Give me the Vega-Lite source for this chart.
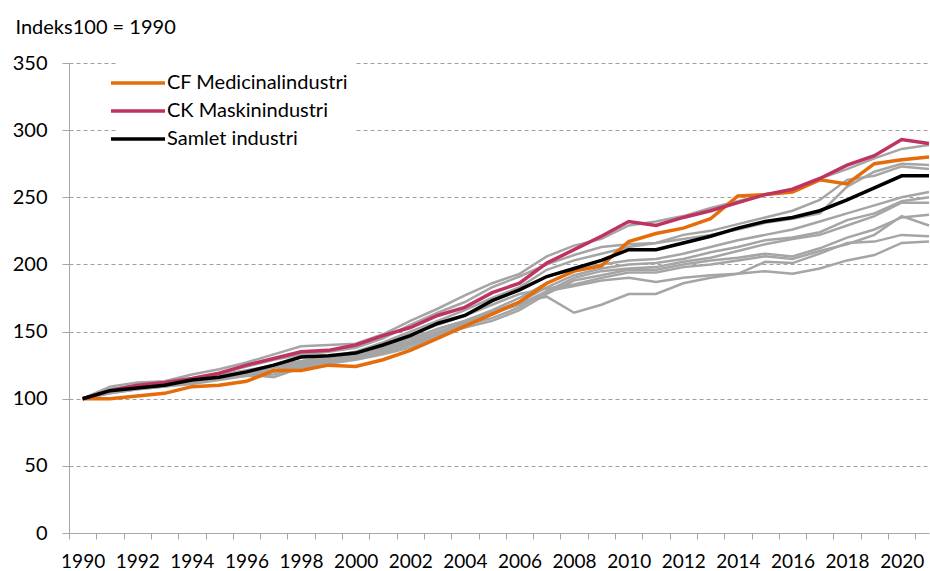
{
"$schema": "https://vega.github.io/schema/vega-lite/v6.json",
"width": 860, "height": 470,
"autosize": {"type": "none"},
"padding": {"left": 69, "top": 63, "right": 1, "bottom": 38},
"background": "white",
"config": {"font": "Lato", "view": {"stroke": null}},
"datasets": {
"rows": [
{"series":"G1","year":1990,"value":100},{"series":"G1","year":1991,"value":109},{"series":"G1","year":1992,"value":112},{"series":"G1","year":1993,"value":113},{"series":"G1","year":1994,"value":118},{"series":"G1","year":1995,"value":122},{"series":"G1","year":1996,"value":127},{"series":"G1","year":1997,"value":133},{"series":"G1","year":1998,"value":139},{"series":"G1","year":1999,"value":140},{"series":"G1","year":2000,"value":141},{"series":"G1","year":2001,"value":148},{"series":"G1","year":2002,"value":158},{"series":"G1","year":2003,"value":167},{"series":"G1","year":2004,"value":177},{"series":"G1","year":2005,"value":186},{"series":"G1","year":2006,"value":193},{"series":"G1","year":2007,"value":206},{"series":"G1","year":2008,"value":214},{"series":"G1","year":2009,"value":219},{"series":"G1","year":2010,"value":229},{"series":"G1","year":2011,"value":232},{"series":"G1","year":2012,"value":236},{"series":"G1","year":2013,"value":242},{"series":"G1","year":2014,"value":247},{"series":"G1","year":2015,"value":252},{"series":"G1","year":2016,"value":255},{"series":"G1","year":2017,"value":264},{"series":"G1","year":2018,"value":271},{"series":"G1","year":2019,"value":279},{"series":"G1","year":2020,"value":286},{"series":"G1","year":2021,"value":289},
{"series":"G2","year":1990,"value":100},{"series":"G2","year":1991,"value":107},{"series":"G2","year":1992,"value":110},{"series":"G2","year":1993,"value":112},{"series":"G2","year":1994,"value":115},{"series":"G2","year":1995,"value":119},{"series":"G2","year":1996,"value":124},{"series":"G2","year":1997,"value":129},{"series":"G2","year":1998,"value":133},{"series":"G2","year":1999,"value":135},{"series":"G2","year":2000,"value":138},{"series":"G2","year":2001,"value":145},{"series":"G2","year":2002,"value":155},{"series":"G2","year":2003,"value":164},{"series":"G2","year":2004,"value":172},{"series":"G2","year":2005,"value":183},{"series":"G2","year":2006,"value":191},{"series":"G2","year":2007,"value":200},{"series":"G2","year":2008,"value":207},{"series":"G2","year":2009,"value":213},{"series":"G2","year":2010,"value":215},{"series":"G2","year":2011,"value":216},{"series":"G2","year":2012,"value":219},{"series":"G2","year":2013,"value":222},{"series":"G2","year":2014,"value":226},{"series":"G2","year":2015,"value":231},{"series":"G2","year":2016,"value":234},{"series":"G2","year":2017,"value":238},{"series":"G2","year":2018,"value":258},{"series":"G2","year":2019,"value":269},{"series":"G2","year":2020,"value":275},{"series":"G2","year":2021,"value":274},
{"series":"G3","year":1990,"value":100},{"series":"G3","year":1991,"value":106},{"series":"G3","year":1992,"value":109},{"series":"G3","year":1993,"value":111},{"series":"G3","year":1994,"value":114},{"series":"G3","year":1995,"value":117},{"series":"G3","year":1996,"value":121},{"series":"G3","year":1997,"value":125},{"series":"G3","year":1998,"value":128},{"series":"G3","year":1999,"value":131},{"series":"G3","year":2000,"value":135},{"series":"G3","year":2001,"value":142},{"series":"G3","year":2002,"value":150},{"series":"G3","year":2003,"value":158},{"series":"G3","year":2004,"value":166},{"series":"G3","year":2005,"value":175},{"series":"G3","year":2006,"value":183},{"series":"G3","year":2007,"value":196},{"series":"G3","year":2008,"value":203},{"series":"G3","year":2009,"value":208},{"series":"G3","year":2010,"value":213},{"series":"G3","year":2011,"value":216},{"series":"G3","year":2012,"value":222},{"series":"G3","year":2013,"value":225},{"series":"G3","year":2014,"value":230},{"series":"G3","year":2015,"value":235},{"series":"G3","year":2016,"value":240},{"series":"G3","year":2017,"value":248},{"series":"G3","year":2018,"value":263},{"series":"G3","year":2019,"value":266},{"series":"G3","year":2020,"value":273},{"series":"G3","year":2021,"value":271},
{"series":"G4","year":1990,"value":100},{"series":"G4","year":1991,"value":105},{"series":"G4","year":1992,"value":108},{"series":"G4","year":1993,"value":110},{"series":"G4","year":1994,"value":113},{"series":"G4","year":1995,"value":117},{"series":"G4","year":1996,"value":120},{"series":"G4","year":1997,"value":123},{"series":"G4","year":1998,"value":127},{"series":"G4","year":1999,"value":130},{"series":"G4","year":2000,"value":133},{"series":"G4","year":2001,"value":138},{"series":"G4","year":2002,"value":145},{"series":"G4","year":2003,"value":152},{"series":"G4","year":2004,"value":158},{"series":"G4","year":2005,"value":166},{"series":"G4","year":2006,"value":175},{"series":"G4","year":2007,"value":186},{"series":"G4","year":2008,"value":195},{"series":"G4","year":2009,"value":200},{"series":"G4","year":2010,"value":203},{"series":"G4","year":2011,"value":204},{"series":"G4","year":2012,"value":208},{"series":"G4","year":2013,"value":213},{"series":"G4","year":2014,"value":218},{"series":"G4","year":2015,"value":222},{"series":"G4","year":2016,"value":226},{"series":"G4","year":2017,"value":232},{"series":"G4","year":2018,"value":238},{"series":"G4","year":2019,"value":244},{"series":"G4","year":2020,"value":250},{"series":"G4","year":2021,"value":254},
{"series":"G5","year":1990,"value":100},{"series":"G5","year":1991,"value":104},{"series":"G5","year":1992,"value":107},{"series":"G5","year":1993,"value":109},{"series":"G5","year":1994,"value":112},{"series":"G5","year":1995,"value":115},{"series":"G5","year":1996,"value":118},{"series":"G5","year":1997,"value":121},{"series":"G5","year":1998,"value":125},{"series":"G5","year":1999,"value":128},{"series":"G5","year":2000,"value":131},{"series":"G5","year":2001,"value":136},{"series":"G5","year":2002,"value":142},{"series":"G5","year":2003,"value":150},{"series":"G5","year":2004,"value":156},{"series":"G5","year":2005,"value":163},{"series":"G5","year":2006,"value":172},{"series":"G5","year":2007,"value":183},{"series":"G5","year":2008,"value":192},{"series":"G5","year":2009,"value":197},{"series":"G5","year":2010,"value":200},{"series":"G5","year":2011,"value":201},{"series":"G5","year":2012,"value":204},{"series":"G5","year":2013,"value":209},{"series":"G5","year":2014,"value":213},{"series":"G5","year":2015,"value":218},{"series":"G5","year":2016,"value":220},{"series":"G5","year":2017,"value":224},{"series":"G5","year":2018,"value":233},{"series":"G5","year":2019,"value":238},{"series":"G5","year":2020,"value":247},{"series":"G5","year":2021,"value":250},
{"series":"G6","year":1990,"value":100},{"series":"G6","year":1991,"value":106},{"series":"G6","year":1992,"value":109},{"series":"G6","year":1993,"value":110},{"series":"G6","year":1994,"value":113},{"series":"G6","year":1995,"value":116},{"series":"G6","year":1996,"value":117},{"series":"G6","year":1997,"value":118},{"series":"G6","year":1998,"value":124},{"series":"G6","year":1999,"value":128},{"series":"G6","year":2000,"value":130},{"series":"G6","year":2001,"value":134},{"series":"G6","year":2002,"value":140},{"series":"G6","year":2003,"value":148},{"series":"G6","year":2004,"value":155},{"series":"G6","year":2005,"value":160},{"series":"G6","year":2006,"value":168},{"series":"G6","year":2007,"value":180},{"series":"G6","year":2008,"value":190},{"series":"G6","year":2009,"value":195},{"series":"G6","year":2010,"value":197},{"series":"G6","year":2011,"value":198},{"series":"G6","year":2012,"value":202},{"series":"G6","year":2013,"value":205},{"series":"G6","year":2014,"value":210},{"series":"G6","year":2015,"value":215},{"series":"G6","year":2016,"value":219},{"series":"G6","year":2017,"value":222},{"series":"G6","year":2018,"value":229},{"series":"G6","year":2019,"value":236},{"series":"G6","year":2020,"value":246},{"series":"G6","year":2021,"value":246},
{"series":"G7","year":1990,"value":100},{"series":"G7","year":1991,"value":105},{"series":"G7","year":1992,"value":108},{"series":"G7","year":1993,"value":109},{"series":"G7","year":1994,"value":112},{"series":"G7","year":1995,"value":115},{"series":"G7","year":1996,"value":118},{"series":"G7","year":1997,"value":116},{"series":"G7","year":1998,"value":123},{"series":"G7","year":1999,"value":126},{"series":"G7","year":2000,"value":129},{"series":"G7","year":2001,"value":133},{"series":"G7","year":2002,"value":138},{"series":"G7","year":2003,"value":147},{"series":"G7","year":2004,"value":153},{"series":"G7","year":2005,"value":158},{"series":"G7","year":2006,"value":166},{"series":"G7","year":2007,"value":178},{"series":"G7","year":2008,"value":188},{"series":"G7","year":2009,"value":192},{"series":"G7","year":2010,"value":196},{"series":"G7","year":2011,"value":196},{"series":"G7","year":2012,"value":200},{"series":"G7","year":2013,"value":203},{"series":"G7","year":2014,"value":205},{"series":"G7","year":2015,"value":208},{"series":"G7","year":2016,"value":206},{"series":"G7","year":2017,"value":212},{"series":"G7","year":2018,"value":220},{"series":"G7","year":2019,"value":226},{"series":"G7","year":2020,"value":235},{"series":"G7","year":2021,"value":237},
{"series":"G8","year":1990,"value":100},{"series":"G8","year":1991,"value":107},{"series":"G8","year":1992,"value":110},{"series":"G8","year":1993,"value":111},{"series":"G8","year":1994,"value":114},{"series":"G8","year":1995,"value":118},{"series":"G8","year":1996,"value":121},{"series":"G8","year":1997,"value":124},{"series":"G8","year":1998,"value":128},{"series":"G8","year":1999,"value":131},{"series":"G8","year":2000,"value":135},{"series":"G8","year":2001,"value":140},{"series":"G8","year":2002,"value":148},{"series":"G8","year":2003,"value":155},{"series":"G8","year":2004,"value":162},{"series":"G8","year":2005,"value":170},{"series":"G8","year":2006,"value":178},{"series":"G8","year":2007,"value":182},{"series":"G8","year":2008,"value":185},{"series":"G8","year":2009,"value":190},{"series":"G8","year":2010,"value":194},{"series":"G8","year":2011,"value":194},{"series":"G8","year":2012,"value":198},{"series":"G8","year":2013,"value":200},{"series":"G8","year":2014,"value":203},{"series":"G8","year":2015,"value":206},{"series":"G8","year":2016,"value":204},{"series":"G8","year":2017,"value":210},{"series":"G8","year":2018,"value":215},{"series":"G8","year":2019,"value":222},{"series":"G8","year":2020,"value":236},{"series":"G8","year":2021,"value":229},
{"series":"G9","year":1990,"value":100},{"series":"G9","year":1991,"value":104},{"series":"G9","year":1992,"value":107},{"series":"G9","year":1993,"value":109},{"series":"G9","year":1994,"value":111},{"series":"G9","year":1995,"value":114},{"series":"G9","year":1996,"value":117},{"series":"G9","year":1997,"value":120},{"series":"G9","year":1998,"value":124},{"series":"G9","year":1999,"value":127},{"series":"G9","year":2000,"value":130},{"series":"G9","year":2001,"value":135},{"series":"G9","year":2002,"value":141},{"series":"G9","year":2003,"value":149},{"series":"G9","year":2004,"value":157},{"series":"G9","year":2005,"value":164},{"series":"G9","year":2006,"value":170},{"series":"G9","year":2007,"value":180},{"series":"G9","year":2008,"value":184},{"series":"G9","year":2009,"value":188},{"series":"G9","year":2010,"value":190},{"series":"G9","year":2011,"value":187},{"series":"G9","year":2012,"value":190},{"series":"G9","year":2013,"value":192},{"series":"G9","year":2014,"value":193},{"series":"G9","year":2015,"value":202},{"series":"G9","year":2016,"value":201},{"series":"G9","year":2017,"value":208},{"series":"G9","year":2018,"value":216},{"series":"G9","year":2019,"value":217},{"series":"G9","year":2020,"value":222},{"series":"G9","year":2021,"value":221},
{"series":"G10","year":1990,"value":100},{"series":"G10","year":1991,"value":105},{"series":"G10","year":1992,"value":108},{"series":"G10","year":1993,"value":110},{"series":"G10","year":1994,"value":112},{"series":"G10","year":1995,"value":116},{"series":"G10","year":1996,"value":119},{"series":"G10","year":1997,"value":121},{"series":"G10","year":1998,"value":126},{"series":"G10","year":1999,"value":129},{"series":"G10","year":2000,"value":132},{"series":"G10","year":2001,"value":137},{"series":"G10","year":2002,"value":143},{"series":"G10","year":2003,"value":152},{"series":"G10","year":2004,"value":158},{"series":"G10","year":2005,"value":165},{"series":"G10","year":2006,"value":172},{"series":"G10","year":2007,"value":176},{"series":"G10","year":2008,"value":164},{"series":"G10","year":2009,"value":170},{"series":"G10","year":2010,"value":178},{"series":"G10","year":2011,"value":178},{"series":"G10","year":2012,"value":186},{"series":"G10","year":2013,"value":190},{"series":"G10","year":2014,"value":193},{"series":"G10","year":2015,"value":195},{"series":"G10","year":2016,"value":193},{"series":"G10","year":2017,"value":197},{"series":"G10","year":2018,"value":203},{"series":"G10","year":2019,"value":207},{"series":"G10","year":2020,"value":216},{"series":"G10","year":2021,"value":217},
{"series":"CF Medicinalindustri","year":1990,"value":100},{"series":"CF Medicinalindustri","year":1991,"value":100},{"series":"CF Medicinalindustri","year":1992,"value":102},{"series":"CF Medicinalindustri","year":1993,"value":104},{"series":"CF Medicinalindustri","year":1994,"value":109},{"series":"CF Medicinalindustri","year":1995,"value":110},{"series":"CF Medicinalindustri","year":1996,"value":113},{"series":"CF Medicinalindustri","year":1997,"value":121},{"series":"CF Medicinalindustri","year":1998,"value":121},{"series":"CF Medicinalindustri","year":1999,"value":125},{"series":"CF Medicinalindustri","year":2000,"value":124},{"series":"CF Medicinalindustri","year":2001,"value":129},{"series":"CF Medicinalindustri","year":2002,"value":136},{"series":"CF Medicinalindustri","year":2003,"value":145},{"series":"CF Medicinalindustri","year":2004,"value":154},{"series":"CF Medicinalindustri","year":2005,"value":163},{"series":"CF Medicinalindustri","year":2006,"value":172},{"series":"CF Medicinalindustri","year":2007,"value":186},{"series":"CF Medicinalindustri","year":2008,"value":195},{"series":"CF Medicinalindustri","year":2009,"value":199},{"series":"CF Medicinalindustri","year":2010,"value":217},{"series":"CF Medicinalindustri","year":2011,"value":223},{"series":"CF Medicinalindustri","year":2012,"value":227},{"series":"CF Medicinalindustri","year":2013,"value":234},{"series":"CF Medicinalindustri","year":2014,"value":251},{"series":"CF Medicinalindustri","year":2015,"value":252},{"series":"CF Medicinalindustri","year":2016,"value":254},{"series":"CF Medicinalindustri","year":2017,"value":263},{"series":"CF Medicinalindustri","year":2018,"value":260},{"series":"CF Medicinalindustri","year":2019,"value":275},{"series":"CF Medicinalindustri","year":2020,"value":278},{"series":"CF Medicinalindustri","year":2021,"value":280},
{"series":"CK Maskinindustri","year":1990,"value":100},{"series":"CK Maskinindustri","year":1991,"value":106},{"series":"CK Maskinindustri","year":1992,"value":110},{"series":"CK Maskinindustri","year":1993,"value":112},{"series":"CK Maskinindustri","year":1994,"value":115},{"series":"CK Maskinindustri","year":1995,"value":119},{"series":"CK Maskinindustri","year":1996,"value":125},{"series":"CK Maskinindustri","year":1997,"value":130},{"series":"CK Maskinindustri","year":1998,"value":135},{"series":"CK Maskinindustri","year":1999,"value":136},{"series":"CK Maskinindustri","year":2000,"value":140},{"series":"CK Maskinindustri","year":2001,"value":147},{"series":"CK Maskinindustri","year":2002,"value":153},{"series":"CK Maskinindustri","year":2003,"value":162},{"series":"CK Maskinindustri","year":2004,"value":168},{"series":"CK Maskinindustri","year":2005,"value":179},{"series":"CK Maskinindustri","year":2006,"value":186},{"series":"CK Maskinindustri","year":2007,"value":201},{"series":"CK Maskinindustri","year":2008,"value":211},{"series":"CK Maskinindustri","year":2009,"value":221},{"series":"CK Maskinindustri","year":2010,"value":232},{"series":"CK Maskinindustri","year":2011,"value":229},{"series":"CK Maskinindustri","year":2012,"value":235},{"series":"CK Maskinindustri","year":2013,"value":240},{"series":"CK Maskinindustri","year":2014,"value":246},{"series":"CK Maskinindustri","year":2015,"value":252},{"series":"CK Maskinindustri","year":2016,"value":256},{"series":"CK Maskinindustri","year":2017,"value":264},{"series":"CK Maskinindustri","year":2018,"value":274},{"series":"CK Maskinindustri","year":2019,"value":281},{"series":"CK Maskinindustri","year":2020,"value":293},{"series":"CK Maskinindustri","year":2021,"value":290},
{"series":"Samlet industri","year":1990,"value":100},{"series":"Samlet industri","year":1991,"value":106},{"series":"Samlet industri","year":1992,"value":108},{"series":"Samlet industri","year":1993,"value":110},{"series":"Samlet industri","year":1994,"value":114},{"series":"Samlet industri","year":1995,"value":116},{"series":"Samlet industri","year":1996,"value":120},{"series":"Samlet industri","year":1997,"value":125},{"series":"Samlet industri","year":1998,"value":131},{"series":"Samlet industri","year":1999,"value":132},{"series":"Samlet industri","year":2000,"value":134},{"series":"Samlet industri","year":2001,"value":140},{"series":"Samlet industri","year":2002,"value":147},{"series":"Samlet industri","year":2003,"value":156},{"series":"Samlet industri","year":2004,"value":162},{"series":"Samlet industri","year":2005,"value":173},{"series":"Samlet industri","year":2006,"value":181},{"series":"Samlet industri","year":2007,"value":191},{"series":"Samlet industri","year":2008,"value":197},{"series":"Samlet industri","year":2009,"value":203},{"series":"Samlet industri","year":2010,"value":211},{"series":"Samlet industri","year":2011,"value":211},{"series":"Samlet industri","year":2012,"value":216},{"series":"Samlet industri","year":2013,"value":221},{"series":"Samlet industri","year":2014,"value":227},{"series":"Samlet industri","year":2015,"value":232},{"series":"Samlet industri","year":2016,"value":235},{"series":"Samlet industri","year":2017,"value":240},{"series":"Samlet industri","year":2018,"value":248},{"series":"Samlet industri","year":2019,"value":257},{"series":"Samlet industri","year":2020,"value":266},{"series":"Samlet industri","year":2021,"value":266}
]
},
"data": {"name": "rows"},
"encoding": {
  "x": {"field": "year", "type": "quantitative",
    "scale": {"domain": [1989.5, 2021], "nice": false, "zero": false},
    "axis": {"values": [1990,1991,1992,1993,1994,1995,1996,1997,1998,1999,2000,2001,2002,2003,2004,2005,2006,2007,2008,2009,2010,2011,2012,2013,2014,2015,2016,2017,2018,2019,2020,2021],
      "format": "d", "labelExpr": "datum.value % 2 === 0 ? datum.label : ''",
      "tickOffset": -13.65, "labelOffset": 13.65, "grid": false, "title": null,
      "domainColor": "#A6A6A6", "tickColor": "#A6A6A6", "tickSize": 6, "domainWidth": 1,
      "labelFontSize": 19, "labelFont": "Lato", "labelColor": "#000000", "labelPadding": 13,
      "labelFlush": false, "labelOverlap": false, "labelBound": false}},
  "y": {"field": "value", "type": "quantitative",
    "scale": {"domain": [0, 350], "nice": false},
    "axis": {"values": [0,50,100,150,200,250,300,350], "title": "Indeks100 = 1990",
      "titleAngle": 0, "titleAlign": "left", "titleBaseline": "alphabetic", "titleX": -54, "titleY": -30,
      "titleFontSize": 20, "titleFont": "Lato", "titleFontWeight": "normal", "titleColor": "#000000",
      "grid": true, "gridDash": [4, 3], "gridColor": "#A0A0A0", "gridWidth": 1,
      "domainColor": "#A6A6A6", "tickColor": "#A6A6A6", "tickSize": 7,
      "labelPadding": 15, "labelFontSize": 20, "labelFont": "Lato", "labelColor": "#000000"}}
},
"layer": [
  {"transform": [{"filter": {"not": {"field": "series", "oneOf": ["CF Medicinalindustri", "CK Maskinindustri", "Samlet industri"]}}}],
   "mark": {"type": "line", "color": "#A5A5A5", "strokeWidth": 2.5},
   "encoding": {"detail": {"field": "series", "type": "nominal"}}},
  {"transform": [{"filter": {"field": "series", "oneOf": ["CF Medicinalindustri", "CK Maskinindustri", "Samlet industri"]}}],
   "mark": {"type": "line"},
   "encoding": {
     "color": {"field": "series", "type": "nominal",
       "scale": {"domain": ["CF Medicinalindustri", "CK Maskinindustri", "Samlet industri"], "range": ["#E46C0A", "#BF3360", "#000000"]},
       "legend": {"orient": "none", "legendX": 49, "legendY": 0, "title": null,
         "symbolType": "M-2.7,0H2.7", "symbolSize": 400, "symbolStrokeWidth": 3.5,
         "labelFontSize": 20, "labelFont": "Lato", "labelColor": "#000000", "labelOffset": 17,
         "rowPadding": 6, "padding": 8, "fillColor": "white", "labelLimit": 400}},
     "strokeWidth": {"field": "series", "type": "nominal",
       "scale": {"domain": ["CF Medicinalindustri", "CK Maskinindustri", "Samlet industri"], "range": [3.5, 3.5, 4.5]},
       "legend": null}
   }}
]
}
